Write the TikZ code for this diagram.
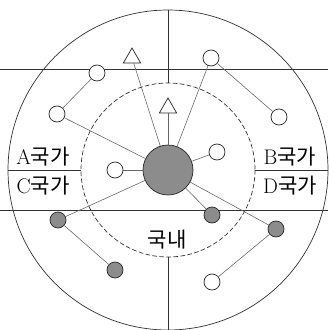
\documentclass[tikz,border=0pt]{standalone}
\usepackage{fontspec}
\newfontfamily\krfont{Noto Sans CJK KR}
\usetikzlibrary{shapes.geometric}

\tikzset{
  open/.style={circle, draw=black!85, fill=white, line width=0.6pt,
               minimum size=0.48cm, inner sep=0pt},
  shaded/.style={open, fill=black!45},
  tri/.style={regular polygon, regular polygon sides=3, draw=black!85,
              fill=white, line width=0.6pt, minimum size=0.6cm, inner sep=0pt},
  link/.style={draw=black!60, line width=0.5pt},
  frame/.style={draw=black!80, line width=0.6pt},
  tag/.style={font=\fontsize{18}{20}\selectfont, inner sep=0pt}
}

\begin{document}
\begin{tikzpicture}[x=0.03cm, y=-0.03cm]
  \useasboundingbox (0,0) rectangle (328,330);

  % rings and borders
  \draw[frame] (168,170) circle (160);
  \draw[frame, dashed, dash pattern=on 4pt off 2pt] (168,170) circle (87);
  \draw[frame] (0,69) -- (328,69);
  \draw[frame] (0,210) -- (328,210);
  \draw[frame] (168,10) -- (168,83);
  \draw[frame] (168,257) -- (168,330);
  \draw[frame] (8,170) -- (81,170);
  \draw[frame] (255,170) -- (328,170);

  % region labels
  \node[tag] (regA) at (43,157) {A{\krfont 국가}};
  \node[tag] (regC) at (43,186) {C{\krfont 국가}};
  \node[tag] (regB) at (290,157) {B{\krfont 국가}};
  \node[tag] (regD) at (290,186) {D{\krfont 국가}};
  \node[tag] (home) at (167,240) {\krfont 국내};

  % hub and partners
  \node[shaded, minimum size=1.5cm] (hub) at (168,170) {};
  \node[tri] (triOut) at (132,58) {};
  \node[tri] (triIn)  at (168,108) {};
  \node[open] (ne1) at (211,58) {};
  \node[open] (ne2) at (279,117) {};
  \node[open] (nw1) at (57,114) {};
  \node[open] (nw2) at (97,73) {};
  \node[open] (inL) at (115,170) {};
  \node[open] (inR) at (217,152) {};
  \node[shaded] (sw1) at (58,220) {};
  \node[shaded] (sw2) at (115,270) {};
  \node[shaded] (inG) at (212,215) {};
  \node[shaded] (se1) at (276,229) {};
  \node[open] (se2) at (212,282) {};

  % connections
  \draw[link] (hub) -- (triOut);
  \draw[link] (hub) -- (triIn);
  \draw[link] (hub) -- (ne1);
  \draw[link] (ne1) -- (ne2);
  \draw[link] (hub) -- (nw1);
  \draw[link] (nw1) -- (nw2);
  \draw[link] (hub) -- (inL);
  \draw[link] (hub) -- (inR);
  \draw[link] (hub) -- (sw1);
  \draw[link] (sw1) -- (sw2);
  \draw[link] (hub) -- (inG);
  \draw[link] (hub) -- (se1);
  \draw[link] (se1) -- (se2);
\end{tikzpicture}
\end{document}
